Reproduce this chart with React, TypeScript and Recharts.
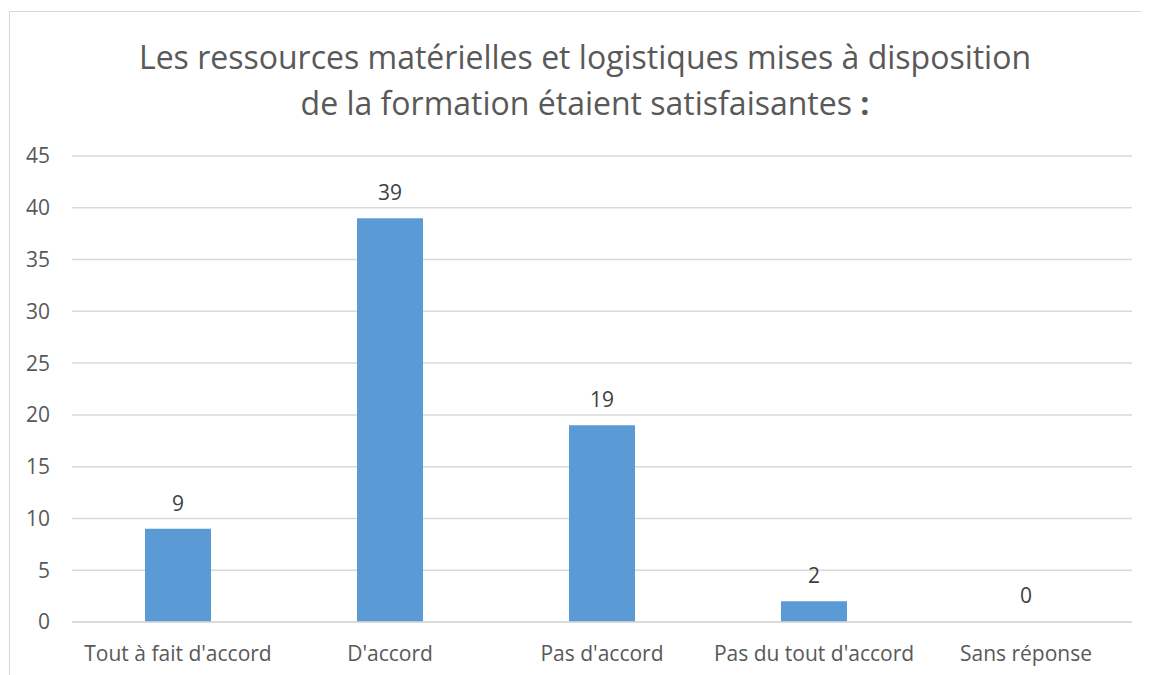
import { BarChart, Bar, XAxis, YAxis, CartesianGrid, LabelList, Cell } from "recharts";

const categories = [
  "Tout à fait d'accord",
  "D'accord",
  "Pas d'accord",
  "Pas du tout d'accord",
  "Sans réponse",
];
const counts = [9, 39, 19, 2, 0];
const yTicks = [0, 5, 10, 15, 20, 25, 30, 35, 40, 45];
const titleLines = [
  "Les ressources matérielles et logistiques mises à disposition",
  "de la formation étaient satisfaisantes",
];

const data = categories.map((name, i) => ({ name, value: counts[i] }));

const FONT = "'Open Sans', sans-serif";
const TEXT = "#595959";
const GRID = "#d9d9d9";
const BAR = "#5b9bd5";

export default function App() {
  return (
    <div
      style={{
        position: "relative",
        marginLeft: 1,
        marginTop: 3,
        width: 1139,
        height: 663,
        borderTop: `1px solid ${GRID}`,
        borderLeft: `1px solid ${GRID}`,
        fontFamily: FONT,
        overflow: "hidden",
      }}
    >
      <div
        style={{
          position: "absolute",
          top: 22,
          left: 0,
          width: 1150,
          textAlign: "center",
          fontSize: 32,
          lineHeight: "46px",
          color: TEXT,
        }}
      >
        <div>{titleLines[0]}</div>
        <div>
          {titleLines[1]} <b>:</b>
        </div>
      </div>
      <BarChart
        width={1139}
        height={663}
        data={data}
        margin={{ top: 144, right: 17, left: 10, bottom: 23 }}
        barSize={66}
      >
        <CartesianGrid vertical={false} stroke={GRID} strokeWidth={1.5} />
        <XAxis
          dataKey="name"
          axisLine={{ stroke: GRID, strokeWidth: 1.5 }}
          tickLine={false}
          tickSize={0}
          tickMargin={24}
          height={30}
          interval={0}
          tick={{ fill: TEXT, fontSize: 21, fontFamily: FONT }}
        />
        <YAxis
          domain={[0, 45]}
          ticks={yTicks}
          axisLine={false}
          tickLine={false}
          tickSize={0}
          tickMargin={22}
          width={52}
          tick={{ fill: TEXT, fontSize: 21, fontFamily: FONT }}
        />
        {/* zero bars get a hairline so their label still shows */}
        <Bar dataKey="value" fill={BAR} minPointSize={1} isAnimationActive={false}>
          {data.map((d, i) => (
            <Cell key={`cell-${i}`} fill={d.value === 0 ? "transparent" : BAR} />
          ))}
          <LabelList
            dataKey="value"
            position="top"
            offset={18}
            fill="#404040"
            fontSize={21}
            fontFamily={FONT}
          />
        </Bar>
      </BarChart>
    </div>
  );
}
